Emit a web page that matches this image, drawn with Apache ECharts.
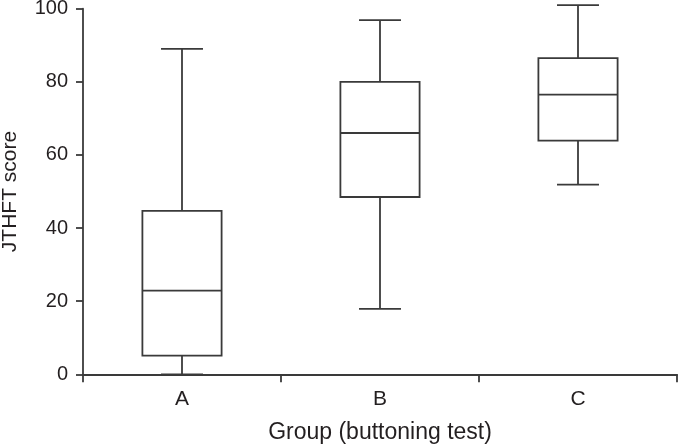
<!DOCTYPE html>
<html>
<head>
<meta charset="utf-8">
<script src="https://cdn.jsdelivr.net/npm/echarts@6/dist/echarts.min.js"></script>
<style>
html,body{margin:0;padding:0;background:#fff;}
#chart{width:678px;height:446px;}
</style>
</head>
<body>
<div id="chart"></div>
<script>
var categories = ['A', 'B', 'C'];
var minVals = [0, 17.9, 51.9];
var q1Vals = [5.1, 48.5, 63.9];
var medianVals = [22.9, 66.0, 76.5];
var q3Vals = [44.7, 80.0, 86.5];
var maxVals = [89.0, 96.9, 101.0];
var yTicks = [0, 20, 40, 60, 80, 100];

var data = categories.map(function (c, i) {
  return [i, minVals[i], q1Vals[i], medianVals[i], q3Vals[i], maxVals[i]];
});

var lineColor = '#3a3a3a';
var textColor = '#231f20';
var font = 'Liberation Sans, Arial, sans-serif';
var lw = 1.8;

function renderItem(params, api) {
  var idx = api.value(0);
  var pMin = api.coord([idx, api.value(1)]);
  var pQ1 = api.coord([idx, api.value(2)]);
  var pMed = api.coord([idx, api.value(3)]);
  var pQ3 = api.coord([idx, api.value(4)]);
  var pMax = api.coord([idx, api.value(5)]);
  var band = api.size([1, 0])[0];
  var cx = pMed[0];
  var hw = band * 0.2;
  var cw = band * 0.106;
  var st = { stroke: lineColor, lineWidth: lw, fill: null };
  return {
    type: 'group',
    children: [
      { type: 'rect', shape: { x: cx - hw, y: pQ3[1], width: hw * 2, height: pQ1[1] - pQ3[1] }, style: { stroke: lineColor, lineWidth: lw, fill: '#fff' } },
      { type: 'line', shape: { x1: cx - hw, y1: pMed[1], x2: cx + hw, y2: pMed[1] }, style: st },
      { type: 'line', shape: { x1: cx, y1: pQ3[1], x2: cx, y2: pMax[1] }, style: st },
      { type: 'line', shape: { x1: cx, y1: pQ1[1], x2: cx, y2: pMin[1] }, style: st },
      { type: 'line', shape: { x1: cx - cw, y1: pMax[1], x2: cx + cw, y2: pMax[1] }, style: st },
      { type: 'line', shape: { x1: cx - cw, y1: pMin[1], x2: cx + cw, y2: pMin[1] }, style: st }
    ]
  };
}

var chart = echarts.init(document.getElementById('chart'), null, { renderer: 'canvas' });
chart.setOption({
  animation: false,
  backgroundColor: '#fff',
  grid: { left: 83, right: 1, top: 8.7, bottom: 71.7, containLabel: false, outerBoundsMode: 'none' },
  xAxis: {
    type: 'category',
    data: categories,
    boundaryGap: true,
    name: 'Group (buttoning test)',
    nameLocation: 'middle',
    nameGap: 47,
    nameTextStyle: { color: textColor, fontSize: 23, fontFamily: font, verticalAlign: 'top' },
    axisLine: { show: true, lineStyle: { color: lineColor, width: lw } },
    axisTick: { show: true, length: 8, alignWithLabel: false, lineStyle: { color: lineColor, width: lw } },
    axisLabel: { color: textColor, fontSize: 21, fontFamily: font, margin: 14 },
    splitLine: { show: false }
  },
  yAxis: {
    type: 'value',
    min: 0,
    max: 100,
    interval: 20,
    name: 'JTHFT score',
    nameLocation: 'middle',
    nameGap: 62,
    nameTextStyle: { color: textColor, fontSize: 21, fontFamily: font },
    axisLine: { show: true, lineStyle: { color: lineColor, width: lw } },
    axisTick: { show: true, length: 7, lineStyle: { color: lineColor, width: lw } },
    axisLabel: {
      color: textColor, fontSize: 20, fontFamily: font, margin: 15,
      formatter: function (v) { return yTicks.indexOf(v) >= 0 ? String(v) : ''; }
    },
    splitLine: { show: false }
  },
  series: [{
    type: 'custom',
    renderItem: renderItem,
    clip: false,
    encode: { x: 0, y: [1, 2, 3, 4, 5] },
    data: data
  }]
});
</script>
</body>
</html>
